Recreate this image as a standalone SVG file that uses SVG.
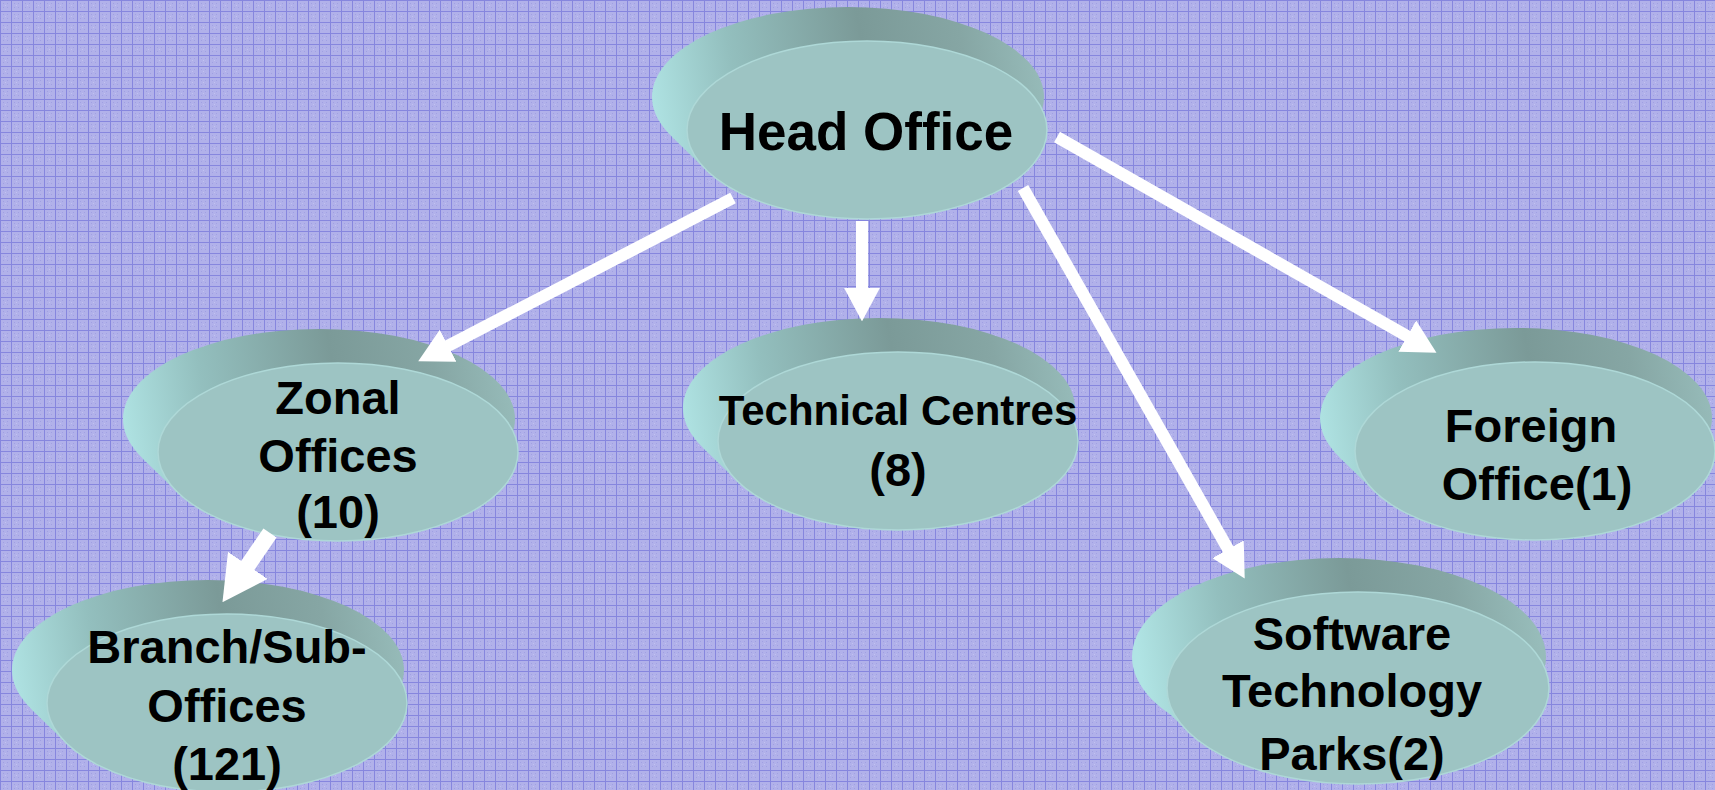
<svg xmlns="http://www.w3.org/2000/svg" width="1715" height="790" viewBox="0 0 1715 790">
<defs>
<pattern id="grid" width="11" height="11" patternUnits="userSpaceOnUse">
<rect width="11" height="11" fill="#b1b1ea"/>
<rect x="3" y="3" width="1" height="1" fill="#a0a0e3"/>
<rect x="7" y="3" width="1" height="1" fill="#a0a0e3"/>
<rect x="3" y="7" width="1" height="1" fill="#a0a0e3"/>
<rect x="7" y="7" width="1" height="1" fill="#a0a0e3"/>
<rect x="5" y="5" width="1" height="1" fill="#c2c2f1"/>
<path d="M0,0.5H11M0.5,0V11" stroke="#8686de" stroke-width="1"/>
</pattern>
<linearGradient id="rim" gradientUnits="userSpaceOnUse" x1="-215" y1="0" x2="180" y2="-60">
<stop offset="0" stop-color="#b0e4e4"/>
<stop offset="0.22" stop-color="#93bfbe"/>
<stop offset="0.55" stop-color="#7b9a98"/>
<stop offset="0.8" stop-color="#86a6a4"/>
<stop offset="1" stop-color="#97bcba"/>
</linearGradient>
<marker id="ah" markerUnits="strokeWidth" markerWidth="2.8" markerHeight="3" viewBox="0 0 28 30" refX="1" refY="15" orient="auto">
<path d="M0,0 L28,15 L0,30 Z" fill="#ffffff"/>
</marker>
<style>
.rim{fill:url(#rim)}
.face{fill:#9dc4c3;stroke:#aed8d7;stroke-width:1.5}
.lbl{font-family:"Liberation Sans",Arial,sans-serif;font-weight:bold;fill:#000;text-anchor:middle}
.conn{stroke:#ffffff;stroke-width:12;fill:none;stroke-linecap:butt;marker-end:url(#ah)}
</style>
</defs>
<rect width="1715" height="790" fill="url(#grid)"/>

<g id="head-office" transform="translate(867,130)">
<ellipse class="rim" cx="-19" cy="-33" rx="196" ry="90"/>
<polygon class="rim" points="-195.4,6.4 -160.4,40.4 0,0 -19,-33"/>
<ellipse class="face" cx="0" cy="0" rx="180" ry="89"/>
<text class="lbl" x="-1" y="20" font-size="53">Head Office</text>
</g>

<g id="zonal-offices" transform="translate(338,452)">
<ellipse class="rim" cx="-19" cy="-33" rx="196" ry="90"/>
<polygon class="rim" points="-195.4,6.4 -160.4,40.4 0,0 -19,-33"/>
<ellipse class="face" cx="0" cy="0" rx="180" ry="89"/>
<text class="lbl" x="0" y="-38" font-size="47">Zonal</text>
<text class="lbl" x="0" y="20" font-size="47">Offices</text>
<text class="lbl" x="0" y="76" font-size="47">(10)</text>
</g>

<g id="branch-offices" transform="translate(227,703)">
<ellipse class="rim" cx="-19" cy="-33" rx="196" ry="90"/>
<polygon class="rim" points="-195.4,6.4 -160.4,40.4 0,0 -19,-33"/>
<ellipse class="face" cx="0" cy="0" rx="180" ry="89"/>
<text class="lbl" x="0" y="-40" font-size="47">Branch/Sub-</text>
<text class="lbl" x="0" y="19" font-size="47">Offices</text>
<text class="lbl" x="0" y="77" font-size="47">(121)</text>
</g>

<g id="technical-centres" transform="translate(898,441)">
<ellipse class="rim" cx="-19" cy="-33" rx="196" ry="90"/>
<polygon class="rim" points="-195.4,6.4 -160.4,40.4 0,0 -19,-33"/>
<ellipse class="face" cx="0" cy="0" rx="180" ry="89"/>
<text class="lbl" x="0" y="-16" font-size="42">Technical Centres</text>
<text class="lbl" x="0" y="45" font-size="47">(8)</text>
</g>

<g id="foreign-office" transform="translate(1535,451)">
<ellipse class="rim" cx="-19" cy="-33" rx="196" ry="90"/>
<polygon class="rim" points="-195.4,6.4 -160.4,40.4 0,0 -19,-33"/>
<ellipse class="face" cx="0" cy="0" rx="180" ry="89"/>
<text class="lbl" x="-4" y="-9" font-size="47">Foreign</text>
<text class="lbl" x="2" y="49" font-size="47">Office(1)</text>
</g>

<g id="software-technology-parks" transform="translate(1358,688)">
<ellipse class="rim" cx="-19" cy="-31" rx="207" ry="99"/>
<polygon class="rim" points="-204.6,10.1 -169.6,44.1 0,0 -19,-31"/>
<ellipse class="face" cx="0" cy="0" rx="191" ry="96"/>
<text class="lbl" x="-6" y="-38" font-size="47">Software</text>
<text class="lbl" x="-6" y="19" font-size="47">Technology</text>
<text class="lbl" x="-6" y="82" font-size="47">Parks(2)</text>
</g>

<g id="connectors">
<line class="conn" x1="733" y1="198" x2="447" y2="346.3"/>
<line class="conn" x1="862" y1="221" x2="862" y2="289"/>
<line class="conn" x1="1023" y1="188" x2="1228.7" y2="550.3"/>
<line class="conn" x1="1057" y1="137" x2="1408.3" y2="336.7"/>
<line class="conn" x1="270" y1="533" x2="246.9" y2="566.7" style="stroke-width:16"/>
</g>
</svg>
